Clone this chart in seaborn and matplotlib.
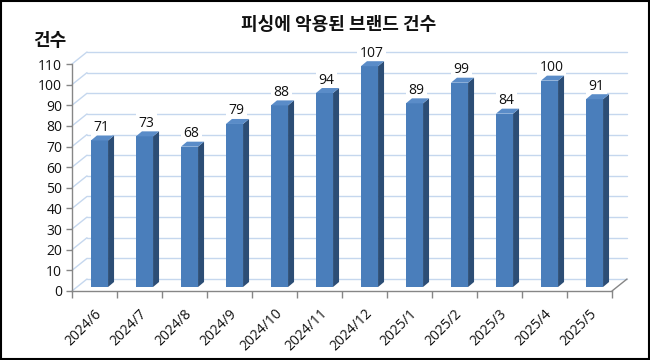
import numpy as np
import pandas as pd
import seaborn as sns
import matplotlib.pyplot as plt
from matplotlib.patches import Polygon, Rectangle
from matplotlib.transforms import offset_copy

months = ['2024/6', '2024/7', '2024/8', '2024/9', '2024/10', '2024/11',
          '2024/12', '2025/1', '2025/2', '2025/3', '2025/4', '2025/5']
counts = [71, 73, 68, 79, 88, 94, 107, 89, 99, 84, 100, 91]
yticks = list(range(0, 111, 10))

title = '피싱에 악용된 브랜드 건수'
ylabel = '건수'

front_color = '#4a7ebb'
side_color = '#2c4d75'
top_color = '#5a8cc8'
grid_color = '#c5d7ee'
axis_color = '#868686'
text_color = '#111111'

# depth of the "3d" box in pixels (dpi=100)
wall_dx, wall_dy = 15, 12
bar_dx, bar_dy = 5, 4
side_dx, side_dy = 6, 5

sns.set_theme(style='white')
plt.rcParams['font.family'] = ['Open Sans', 'Noto Sans CJK KR', 'DejaVu Sans']

df = pd.DataFrame({'month': months, 'count': counts})

fig = plt.figure(figsize=(6.5, 3.6), dpi=100)
ax = fig.add_axes([72 / 650, 69 / 360, 540 / 650, 227 / 360])

sns.barplot(data=df, x='month', y='count', color=front_color, width=0.38,
            saturation=1, ax=ax, zorder=3)
ax.set_xlim(-0.5, len(months) - 0.5)
ax.set_ylim(0, 110)

# shift the bars to mid depth
bar_tr = offset_copy(ax.transData, fig=fig, x=bar_dx, y=bar_dy, units='dots')
for p in ax.patches:
    p.set_transform(bar_tr)
    p.set_edgecolor('none')

fig.canvas.draw()
to_px = ax.transData.transform

# side and top faces
for p in list(ax.patches):
    x0, w, h = p.get_x(), p.get_width(), p.get_height()
    (lx, by), (rx, ty) = to_px([(x0, 0), (x0 + w, h)])
    lx += bar_dx; rx += bar_dx; by += bar_dy; ty += bar_dy
    side = Polygon([(rx, by), (rx + side_dx, by + side_dy), (rx + side_dx, ty + side_dy), (rx, ty)],
                   closed=True, transform=None, facecolor=side_color, edgecolor='none', zorder=3)
    top = Polygon([(lx, ty), (rx, ty), (rx + side_dx, ty + side_dy), (lx + side_dx, ty + side_dy)],
                  closed=True, transform=None, facecolor=top_color, edgecolor='none', zorder=3)
    fig.add_artist(side)
    fig.add_artist(top)

# back wall gridlines and left wall slants (behind the axes)
x_lo, x_hi = ax.get_xlim()
for v in yticks:
    (ax0, ay), (ax1, _) = to_px([(x_lo, v), (x_hi, v)])
    fig.add_artist(plt.Line2D([ax0 + wall_dx, ax1 + wall_dx], [ay + wall_dy, ay + wall_dy],
                              transform=None, color=grid_color, lw=1, zorder=-1))
    fig.add_artist(plt.Line2D([ax0, ax0 + wall_dx], [ay, ay + wall_dy],
                              transform=None, color=grid_color, lw=1, zorder=-1))
# floor right edge
(fx, fy), = to_px([(x_hi, 0)])
fig.add_artist(plt.Line2D([fx, fx + wall_dx], [fy, fy + wall_dy],
                          transform=None, color=axis_color, lw=1, zorder=-1))

# value labels
for i, p in enumerate(ax.patches):
    cx = p.get_x() + p.get_width() / 2
    ax.annotate(str(counts[i]), (cx, p.get_height()), xytext=(bar_dx + 2, bar_dy + 13),
                textcoords='offset pixels', ha='center', va='center', fontsize=10,
                color=text_color, zorder=5, annotation_clip=False,
                bbox=dict(boxstyle='square,pad=0.2', facecolor='white', edgecolor='none'))

# axes styling
for s in ['top', 'right']:
    ax.spines[s].set_visible(False)
for s in ['left', 'bottom']:
    ax.spines[s].set_color(axis_color)
    ax.spines[s].set_linewidth(1)
    ax.spines[s].set_zorder(4)
ax.set_facecolor('none')
ax.set_yticks(yticks)
ax.tick_params(axis='y', which='major', length=4, color=axis_color, width=1,
               labelsize=10, pad=3, left=True, labelcolor=text_color)
ax.set_xticks(np.arange(len(months) + 1) - 0.5, minor=True)
ax.tick_params(axis='x', which='minor', length=5, color=axis_color, width=1, bottom=True)
ax.tick_params(axis='x', which='major', length=0, labelsize=10, pad=11, labelcolor=text_color)
ax.set_xticks(range(len(months)))
ax.set_xticklabels(months, rotation=45, ha='right', rotation_mode='anchor')
ax.set_xlabel('')
ax.set_ylabel('')

fig.text(339 / 650, 1 - 25 / 360, title, ha='center', va='center', fontsize=13,
         fontweight='bold', color=text_color, family=['Noto Sans CJK KR', 'DejaVu Sans'])
fig.text(33 / 650, 1 - 40 / 360, ylabel, ha='left', va='center', fontsize=13,
         fontweight='bold', color=text_color, family=['Noto Sans CJK KR', 'DejaVu Sans'])

fig.add_artist(Rectangle((0.002, 0.003), 0.996, 0.994, transform=fig.transFigure,
                         fill=False, edgecolor='black', lw=1.5))

fig.savefig('out.png', dpi=100)
